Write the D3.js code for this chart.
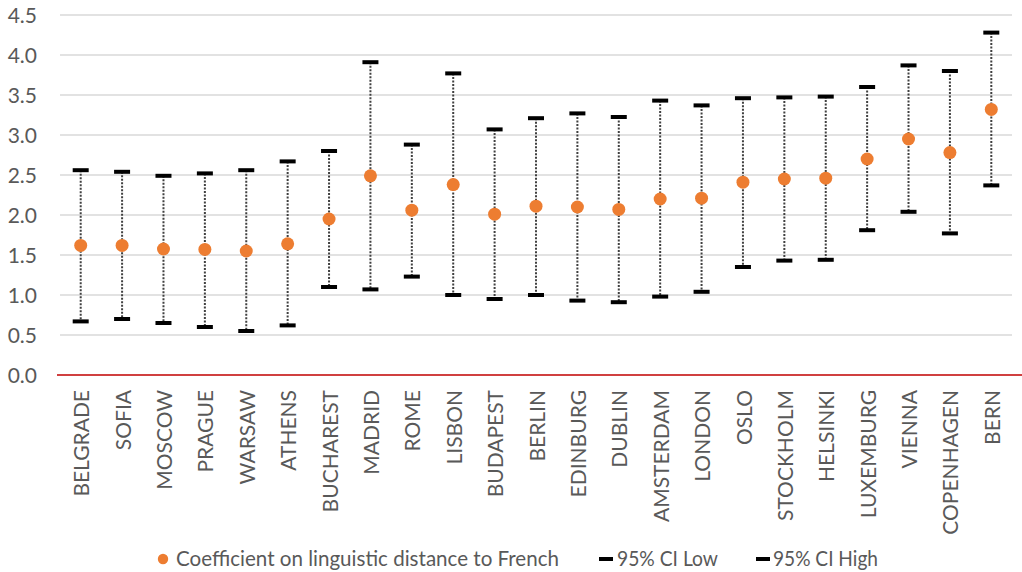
<!DOCTYPE html>
<html><head><meta charset="utf-8">
<script src="https://cdn.jsdelivr.net/npm/d3@7"></script>
<style>body{margin:0;background:#fff;} svg{display:block;}</style>
</head><body>
<svg id="chart" width="1022" height="572"></svg>
<script>
const categories = ["BELGRADE","SOFIA","MOSCOW","PRAGUE","WARSAW","ATHENS","BUCHAREST","MADRID","ROME","LISBON","BUDAPEST","BERLIN","EDINBURG","DUBLIN","AMSTERDAM","LONDON","OSLO","STOCKHOLM","HELSINKI","LUXEMBURG","VIENNA","COPENHAGEN","BERN"];
const coefficient = [1.62,1.62,1.575,1.57,1.55,1.64,1.95,2.49,2.06,2.38,2.01,2.11,2.10,2.07,2.20,2.21,2.41,2.45,2.46,2.70,2.95,2.78,3.32];
const ciLow = [0.67,0.70,0.65,0.60,0.55,0.62,1.10,1.07,1.23,1.00,0.95,1.00,0.93,0.91,0.98,1.04,1.35,1.43,1.44,1.81,2.04,1.77,2.37];
const ciHigh = [2.56,2.54,2.49,2.52,2.56,2.67,2.80,3.91,2.88,3.77,3.07,3.21,3.27,3.225,3.43,3.37,3.46,3.47,3.48,3.60,3.87,3.80,4.28];
const yTicks = [0,0.5,1.0,1.5,2.0,2.5,3.0,3.5,4.0,4.5];
const legendLabels = ["Coefficient on linguistic distance to French","95% CI Low","95% CI High"];

(function(){
const svg = d3.select("#chart");
const font = "Lato, 'Open Sans', 'Liberation Sans', sans-serif";
const mLeft = 60, mRight = 1012, mTop = 15, mBottom = 375;
const x = d3.scaleBand().domain(categories).range([mLeft, mRight]);
const y = d3.scaleLinear().domain([0, 4.5]).range([mBottom, mTop]);

// gridlines
svg.append("g").selectAll("line").data(yTicks.filter(d => d > 0)).join("line")
  .attr("x1", mLeft).attr("x2", mRight)
  .attr("y1", d => y(d)).attr("y2", d => y(d))
  .attr("stroke", "#d9d9d9").attr("stroke-width", 1.3);

// y axis labels
const yAxis = d3.axisLeft(y).tickValues(yTicks).tickFormat(d3.format(".1f")).tickSize(0).tickPadding(0);
const gy = svg.append("g").attr("transform", `translate(37,0)`).call(yAxis);
gy.select(".domain").remove();
gy.selectAll("text").attr("font-family", font).attr("font-size", 21).attr("fill", "#595959").attr("dy", "0.35em");

// zero line
svg.append("line").attr("x1", 57).attr("x2", 1022).attr("y1", y(0)).attr("y2", y(0))
  .attr("stroke", "#c00000").attr("stroke-width", 1.6);

// x axis labels
const xAxis = d3.axisBottom(x).tickSize(0).tickPadding(0);
const gx = svg.append("g").attr("transform", `translate(0,${mBottom})`).call(xAxis);
gx.select(".domain").remove();
gx.selectAll("text")
  .attr("font-family", font).attr("font-size", 21).attr("fill", "#595959")
  .attr("text-anchor", "end")
  .attr("transform", "rotate(-90)")
  .attr("x", -15).attr("y", 1).attr("dy", "0.36em");

const cx = d => x(d) + x.bandwidth() / 2;

// dotted range lines
svg.append("g").selectAll("line").data(categories).join("line")
  .attr("x1", d => cx(d)).attr("x2", d => cx(d))
  .attr("y1", (d, i) => y(ciHigh[i])).attr("y2", (d, i) => y(ciLow[i]))
  .attr("stroke", "#404040").attr("stroke-width", 2).attr("stroke-dasharray", "2,1.5");

// caps
const capW = 16, capH = 4;
svg.append("g").selectAll("rect").data(categories).join("rect")
  .attr("x", d => cx(d) - capW / 2).attr("y", (d, i) => y(ciLow[i]) - capH / 2)
  .attr("width", capW).attr("height", capH).attr("fill", "#000");
svg.append("g").selectAll("rect").data(categories).join("rect")
  .attr("x", d => cx(d) - capW / 2).attr("y", (d, i) => y(ciHigh[i]) - capH / 2)
  .attr("width", capW).attr("height", capH).attr("fill", "#000");

// points
svg.append("g").selectAll("circle").data(categories).join("circle")
  .attr("cx", d => cx(d)).attr("cy", (d, i) => y(coefficient[i]))
  .attr("r", 6.5).attr("fill", "#ed7d31");

// legend
const lg = svg.append("g").attr("font-family", font).attr("font-size", 21).attr("fill", "#595959");
const ly = 559;
lg.append("circle").attr("cx", 163).attr("cy", ly).attr("r", 5.2).attr("fill", "#ed7d31");
lg.append("text").attr("x", 176).attr("y", ly).attr("dy", "0.35em")
  .attr("textLength", 383).attr("lengthAdjust", "spacingAndGlyphs").text(legendLabels[0]);
lg.append("rect").attr("x", 599).attr("y", ly - 2).attr("width", 14).attr("height", 4).attr("fill", "#000");
lg.append("text").attr("x", 617).attr("y", ly).attr("dy", "0.35em")
  .attr("textLength", 101).attr("lengthAdjust", "spacingAndGlyphs").text(legendLabels[1]);
lg.append("rect").attr("x", 756).attr("y", ly - 2).attr("width", 14).attr("height", 4).attr("fill", "#000");
lg.append("text").attr("x", 773).attr("y", ly).attr("dy", "0.35em")
  .attr("textLength", 105).attr("lengthAdjust", "spacingAndGlyphs").text(legendLabels[2]);
})();
</script>
</body></html>
